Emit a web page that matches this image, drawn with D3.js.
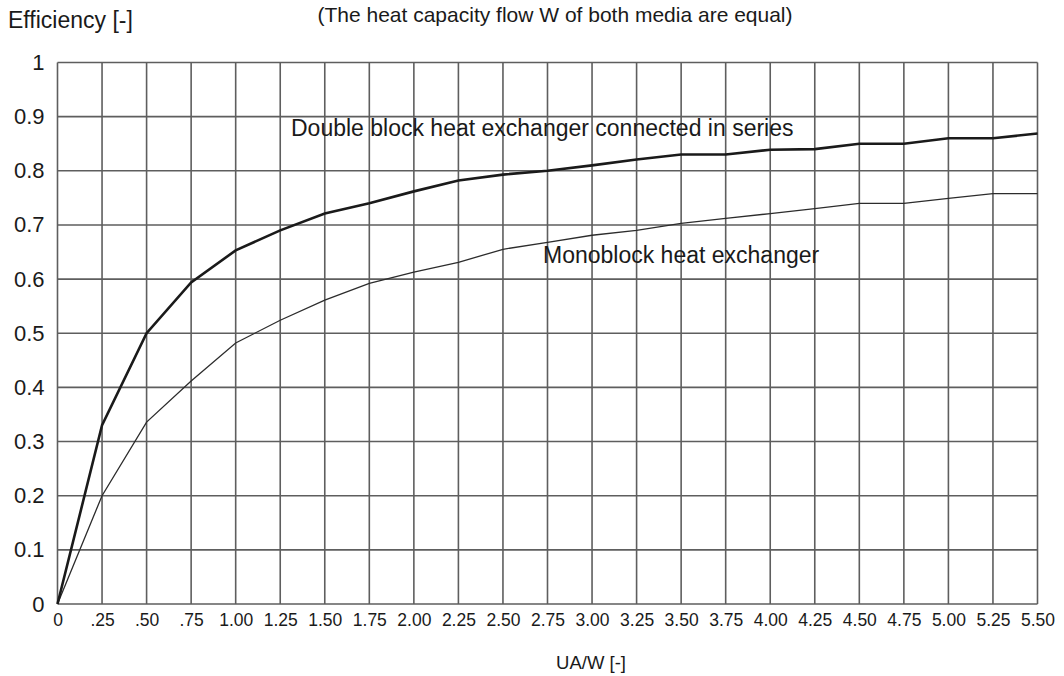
<!DOCTYPE html>
<html>
<head>
<meta charset="utf-8">
<script src="https://cdn.jsdelivr.net/npm/d3@7"></script>
<style>
  html, body { margin: 0; padding: 0; background: #fff; }
  svg { display: block; font-family: "Liberation Sans", Arial, Helvetica, sans-serif; }
</style>
</head>
<body>
<svg id="chart" width="1064" height="676"></svg>
<script>
// UA/W values at each grid step
const uaw = [0, 0.25, 0.5, 0.75, 1.0, 1.25, 1.5, 1.75, 2.0, 2.25, 2.5, 2.75,
             3.0, 3.25, 3.5, 3.75, 4.0, 4.25, 4.5, 4.75, 5.0, 5.25, 5.5];

// Efficiency of two heat exchangers connected in series
const doubleBlock = [0, 0.33, 0.50, 0.594, 0.653, 0.69, 0.721, 0.74, 0.762, 0.782, 0.793, 0.80,
                     0.81, 0.821, 0.83, 0.83, 0.839, 0.84, 0.85, 0.85, 0.86, 0.86, 0.869];

// Efficiency of a single monoblock heat exchanger
const monoBlock = [0, 0.20, 0.336, 0.412, 0.482, 0.524, 0.561, 0.592, 0.613, 0.631, 0.655, 0.668,
                   0.681, 0.69, 0.703, 0.712, 0.721, 0.73, 0.74, 0.74, 0.749, 0.758, 0.758];

const xTickValues = uaw;
const xTickLabels = ["0", ".25", ".50", ".75", "1.00", "1.25", "1.50", "1.75", "2.00", "2.25", "2.50", "2.75",
                     "3.00", "3.25", "3.50", "3.75", "4.00", "4.25", "4.50", "4.75", "5.00", "5.25", "5.50"];
const yTickValues = [0, 0.1, 0.2, 0.3, 0.4, 0.5, 0.6, 0.7, 0.8, 0.9, 1];
const yTickLabels = ["0", "0.1", "0.2", "0.3", "0.4", "0.5", "0.6", "0.7", "0.8", "0.9", "1"];

const svg = d3.select("#chart");
const plotLeft = 57.5, plotRight = 1037.5, plotTop = 62.5, plotBottom = 604;

const x = d3.scaleLinear().domain([0, 5.5]).range([plotLeft, plotRight]);
const y = d3.scaleLinear().domain([0, 1]).range([plotBottom, plotTop]);

const gridColor = "#5e5e5e";
const inkColor = "#1a1a1a";

// vertical grid lines
svg.append("g").selectAll("line").data(xTickValues).join("line")
  .attr("x1", d => x(d)).attr("x2", d => x(d))
  .attr("y1", y(0)).attr("y2", y(1))
  .attr("stroke", gridColor).attr("stroke-width", 1.6);

// horizontal grid lines
svg.append("g").selectAll("line").data(yTickValues).join("line")
  .attr("x1", x(0)).attr("x2", x(5.5))
  .attr("y1", d => y(d)).attr("y2", d => y(d))
  .attr("stroke", gridColor).attr("stroke-width", 1.6);

// x axis labels
const xAxis = d3.axisBottom(x).tickValues(xTickValues)
  .tickFormat((d, i) => xTickLabels[i]).tickSize(0).tickPadding(10);
const gx = svg.append("g").attr("transform", `translate(0,${plotBottom})`).call(xAxis);
gx.select(".domain").remove();
gx.selectAll("text").attr("font-size", 17.5).attr("fill", inkColor)
  .attr("font-family", "'Liberation Sans', Arial, sans-serif");

// y axis labels
const yAxis = d3.axisLeft(y).tickValues(yTickValues)
  .tickFormat((d, i) => yTickLabels[i]).tickSize(0).tickPadding(13);
const gy = svg.append("g").attr("transform", `translate(${plotLeft},0)`).call(yAxis);
gy.select(".domain").remove();
gy.selectAll("text").attr("font-size", 22).attr("fill", inkColor)
  .attr("font-family", "'Liberation Sans', Arial, sans-serif");

// curves
const line = d3.line().x((d, i) => x(uaw[i])).y(d => y(d));

svg.append("path").datum(monoBlock)
  .attr("d", line).attr("fill", "none")
  .attr("stroke", "#2c2c2c").attr("stroke-width", 1.3);

svg.append("path").datum(doubleBlock)
  .attr("d", line).attr("fill", "none")
  .attr("stroke", inkColor).attr("stroke-width", 2.6);

// curve labels
svg.append("text").attr("x", 291).attr("y", 136)
  .attr("font-size", 23).attr("fill", inkColor)
  .text("Double block heat exchanger connected in series");

svg.append("text").attr("x", 543).attr("y", 263)
  .attr("font-size", 23).attr("fill", inkColor)
  .text("Monoblock heat exchanger");

// titles
svg.append("text").attr("x", 555).attr("y", 22).attr("text-anchor", "middle")
  .attr("font-size", 21).attr("fill", inkColor)
  .text("(The heat capacity flow W of both media are equal)");

svg.append("text").attr("x", 8).attr("y", 28)
  .attr("font-size", 23).attr("fill", inkColor)
  .text("Efficiency [-]");

svg.append("text").attr("x", 591).attr("y", 669).attr("text-anchor", "middle")
  .attr("font-size", 18.5).attr("fill", inkColor)
  .text("UA/W [-]");
</script>
</body>
</html>
